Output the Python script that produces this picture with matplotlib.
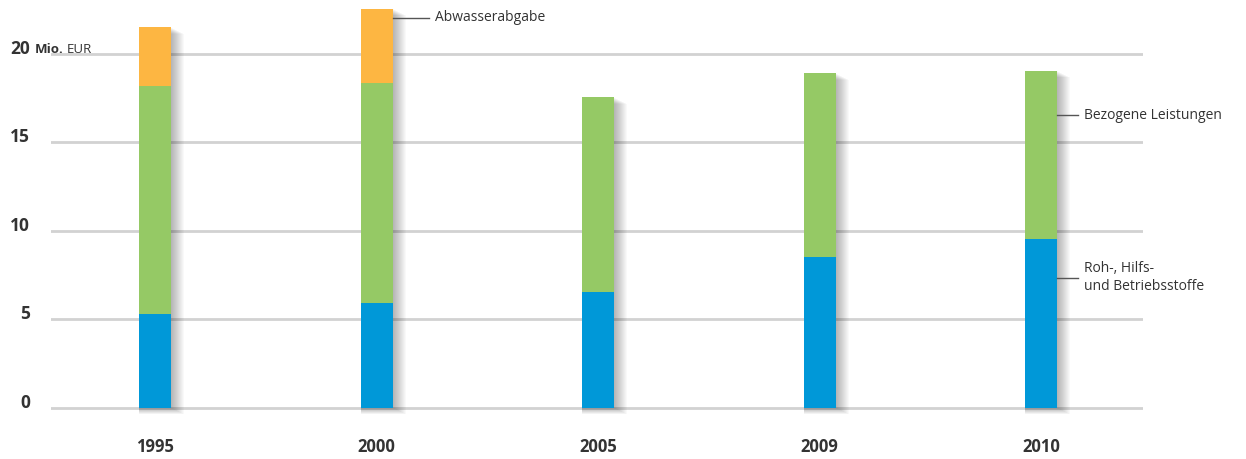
import matplotlib.pyplot as plt

# Daten (Mio. EUR)
jahre = ["1995", "2000", "2005", "2009", "2010"]
roh_hilfs = [5.3, 5.95, 6.55, 8.5, 9.55]
bezogene = [12.9, 12.4, 11.0, 10.4, 9.5]
abwasser = [3.3, 4.2, 0.0, 0.0, 0.0]
yticks = [0, 5, 10, 15, 20]

blau = "#0098d8"
gruen = "#95c965"
orange = "#fdb642"
textfarbe = "#333333"

plt.rcParams['font.family'] = ['Open Sans', 'DejaVu Sans']

fig = plt.figure(figsize=(12.46, 4.59), dpi=100)
ax = fig.add_axes([51 / 1246, 44 / 459, (1143 - 51) / 1246, 415 / 459])
ax.set_xlim(-0.47, 4.46)
ax.set_ylim(-0.4, 23.05)
ax.axis('off')

x = list(range(len(jahre)))
bw = 32 / 221.5
px = 1 / 221.5
py = 1 / 17.7

# Gitterlinien
for t in yticks:
    ax.axhline(t, color="#d2d2d2", lw=2.0, zorder=0)
    ax.text(-0.565, t + 5 * py, str(t), ha='right', va='center', fontsize=12.5,
            fontweight='bold', color=textfarbe, clip_on=False)
ax.text(-0.542, 20 + 4 * py, "Mio.", ha='left', va='center', fontsize=9.5,
        fontweight='bold', color=textfarbe, clip_on=False)
ax.text(-0.40, 20 + 4 * py, "EUR", ha='left', va='center', fontsize=9.5,
        color=textfarbe, clip_on=False)

# Schatten
gesamt = [a + b + c for a, b, c in zip(roh_hilfs, bezogene, abwasser)]
for k in range(1, 14):
    ax.bar([xi - bw / 2 for xi in x], gesamt, width=bw + k * px,
           bottom=-k * 0.5 * py, align='edge', color='black', alpha=0.022,
           linewidth=0, zorder=1)

# Balken
ax.bar(x, roh_hilfs, width=bw, color=blau, zorder=2)
ax.bar(x, bezogene, width=bw, bottom=roh_hilfs, color=gruen, zorder=2)
unten = [a + b for a, b in zip(roh_hilfs, bezogene)]
ax.bar(x, abwasser, width=bw, bottom=unten, color=orange, zorder=2)

# Jahreszahlen
for xi, j in zip(x, jahre):
    ax.text(xi, -2.2, j, ha='center', va='center', fontsize=12,
            fontweight='bold', color=textfarbe, clip_on=False)

# Beschriftungen
def label(xb, y, text, laenge):
    x0 = xb + bw / 2
    ax.plot([x0, x0 + laenge * px], [y, y], color="#555555", lw=1.0, zorder=3)
    ax.text(x0 + (laenge + 6) * px, y, text, ha='left', va='center', fontsize=10,
            color=textfarbe, linespacing=1.3)

label(1, 22.05, "Abwasserabgabe", 36)
label(4, 16.55, "Bezogene Leistungen", 21)
label(4, 7.35, "Roh-, Hilfs-\nund Betriebsstoffe", 21)

fig.savefig("out.png", dpi=100)
